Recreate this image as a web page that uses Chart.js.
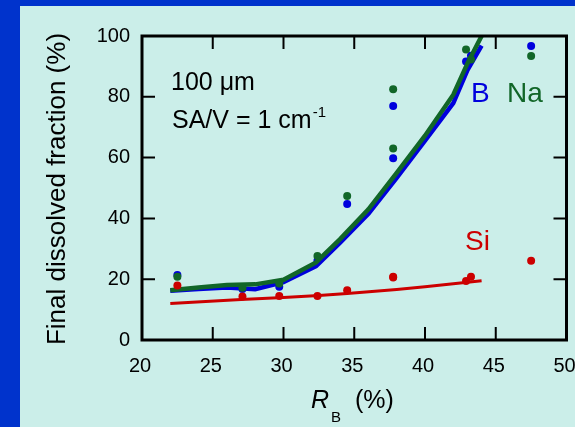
<!DOCTYPE html>
<html>
<head>
<meta charset="utf-8">
<title>Final dissolved fraction vs RB</title>
<script src="https://cdn.jsdelivr.net/npm/chart.js@4.4.1/dist/chart.umd.min.js"></script>
<style>
    html, body { margin: 0; padding: 0; background: #0033cc; }
    #wrap { width: 575px; height: 427px; position: relative; }
    canvas { display: block; }
</style>
</head>
<body>
<div id="wrap"><canvas id="chart" width="575" height="427"></canvas></div>
<script>
// ========================================
// DATA
// ========================================

// measured glasses: R_B (%)
const sampleRB = [22.5, 27.1, 29.7, 32.4, 34.5, 37.75, 37.75, 42.9, 43.25, 47.5];
// final dissolved fraction (%)
const measuredB  = [21.4, 16.8, 17.5, 26.1, 44.7, 77.0, 59.8, 91.6, 93.5, 96.7];
const measuredNa = [20.8, 17.2, 18.6, 27.6, 47.4, 82.5, 63.0, 95.6, 92.3, 93.4];
const measuredSi = [17.9, 14.3, 14.5, 14.5, 16.4, 20.8, 20.6, 19.4, 20.8, 26.1];

// model curves
const modelRB  = [22, 24, 26, 28, 30, 32.3, 34, 36, 38, 40, 42, 43, 44];
const modelB   = [16.2, 16.8, 17.3, 16.7, 19.0, 24.3, 32.0, 41.5, 53.3, 65.6, 77.9, 88.8, 96.8];
const modelNa  = [16.4, 17.3, 18.1, 18.3, 19.8, 25.5, 33.2, 43.0, 55.0, 67.2, 80.7, 91.0, 100];
const modelRBSi = [22, 27, 30, 32.5, 34.5, 38, 40, 43, 44];
const modelSi   = [12.0, 13.3, 14.0, 14.6, 15.3, 16.6, 17.5, 19.0, 19.5];

// axes
const xRange = [20, 50];
const yRange = [0, 100];
const xStep = 5;
const yStep = 20;

// ========================================
// STYLE
// ========================================

const COLORS = {
    frame: '#0033cc',
    panel: '#cbeee9',
    B: '#0000dd',
    Na: '#116628',
    Si: '#cc0000',
    ink: '#000000'
};
const FONT = '"Liberation Sans", Arial, Helvetica, sans-serif';

Chart.defaults.font.family = FONT;
Chart.defaults.color = COLORS.ink;

function toXY(xs, ys) {
    return xs.map((x, i) => ({ x: x, y: ys[i] }));
}

// ========================================
// PLUGIN: panel, boxed frame with inward ticks, labels
// ========================================

const figurePlugin = {
    id: 'figure',
    beforeDraw(chart) {
        const ctx = chart.ctx;
        ctx.save();
        ctx.fillStyle = COLORS.frame;
        ctx.fillRect(0, 0, chart.width, chart.height);
        ctx.fillStyle = COLORS.panel;
        ctx.fillRect(20, 6, chart.width - 20, chart.height - 6);
        ctx.restore();
    },
    afterDraw(chart) {
        const ctx = chart.ctx;
        const a = chart.chartArea;
        const xs = chart.scales.x;
        const ys = chart.scales.y;
        const tickLen = 13;

        ctx.save();
        ctx.strokeStyle = COLORS.ink;
        ctx.lineWidth = 2;
        ctx.beginPath();
        xs.ticks.forEach(t => {
            if (t.value <= xRange[0] || t.value >= xRange[1]) return;
            const px = xs.getPixelForValue(t.value);
            ctx.moveTo(px, a.bottom); ctx.lineTo(px, a.bottom - tickLen);
            ctx.moveTo(px, a.top); ctx.lineTo(px, a.top + tickLen);
        });
        ys.ticks.forEach(t => {
            if (t.value <= yRange[0] || t.value >= yRange[1]) return;
            const py = ys.getPixelForValue(t.value);
            ctx.moveTo(a.left, py); ctx.lineTo(a.left + tickLen, py);
            ctx.moveTo(a.right, py); ctx.lineTo(a.right - tickLen, py);
        });
        ctx.stroke();

        ctx.lineWidth = 3;
        ctx.strokeRect(a.left, a.top, a.right - a.left, a.bottom - a.top);

        // annotation
        ctx.fillStyle = COLORS.ink;
        ctx.textAlign = 'left';
        ctx.textBaseline = 'alphabetic';
        ctx.font = '25px ' + FONT;
        ctx.fillText('100 \u03bcm', 171, 90);
        ctx.fillText('SA/V = 1 cm', 172, 128);
        const w = ctx.measureText('SA/V = 1 cm').width;
        ctx.font = '15px ' + FONT;
        ctx.fillText('-1', 172 + w + 1, 117);

        // series labels
        ctx.font = '28px ' + FONT;
        ctx.fillStyle = COLORS.B;
        ctx.fillText('B', 471, 102);
        ctx.fillStyle = COLORS.Na;
        ctx.fillText('Na', 507, 102);
        ctx.fillStyle = COLORS.Si;
        ctx.fillText('Si', 465, 250);

        // y title
        ctx.fillStyle = COLORS.ink;
        ctx.save();
        ctx.translate(65, 189);
        ctx.rotate(-Math.PI / 2);
        ctx.textAlign = 'center';
        ctx.font = '26px ' + FONT;
        ctx.fillText('Final dissolved fraction (%)', 0, 0);
        ctx.restore();

        // x title
        ctx.textAlign = 'left';
        ctx.font = 'italic 25px ' + FONT;
        ctx.fillText('R', 311, 408);
        ctx.font = '15px ' + FONT;
        ctx.fillText('B', 331, 422);
        ctx.font = '25px ' + FONT;
        ctx.fillText('(%)', 355, 408);
        ctx.restore();
    }
};

// ========================================
// CHART
// ========================================

const tickFont = { family: FONT, size: 20 };

new Chart(document.getElementById('chart'), {
    type: 'scatter',
    data: {
        datasets: [
            { label: 'Si', data: toXY(sampleRB, measuredSi), showLine: false,
              pointRadius: 4, pointBackgroundColor: COLORS.Si, pointBorderWidth: 0, order: 0 },
            { label: 'Si model', data: toXY(modelRBSi, modelSi), showLine: true,
              borderColor: COLORS.Si, borderWidth: 3, pointRadius: 0, order: 1 },
            { label: 'Na', data: toXY(sampleRB, measuredNa), showLine: false,
              pointRadius: 4, pointBackgroundColor: COLORS.Na, pointBorderWidth: 0, order: 2 },
            { label: 'Na model', data: toXY(modelRB, modelNa), showLine: true,
              borderColor: COLORS.Na, borderWidth: 4.5, pointRadius: 0, order: 3 },
            { label: 'B', data: toXY(sampleRB, measuredB), showLine: false,
              pointRadius: 4, pointBackgroundColor: COLORS.B, pointBorderWidth: 0, order: 4 },
            { label: 'B model', data: toXY(modelRB, modelB), showLine: true,
              borderColor: COLORS.B, borderWidth: 4.5, pointRadius: 0, order: 5 }
        ]
    },
    options: {
        responsive: false,
        animation: false,
        layout: { padding: { left: 0, right: 8.5, top: 36, bottom: 0 } },
        plugins: {
            legend: { display: false },
            tooltip: { enabled: false }
        },
        scales: {
            x: {
                type: 'linear',
                position: 'bottom',
                min: xRange[0],
                max: xRange[1],
                ticks: { stepSize: xStep, font: tickFont, color: COLORS.ink, padding: 14,
                         labelOffset: -2, maxRotation: 0, autoSkip: false },
                grid: { display: false, drawTicks: false },
                border: { display: false },
                afterFit(scale) {
                    scale.height = 87;
                    scale.paddingLeft = 0;
                    scale.paddingRight = 0;
                }
            },
            y: {
                type: 'linear',
                position: 'left',
                min: yRange[0],
                max: yRange[1],
                ticks: { stepSize: yStep, font: tickFont, color: COLORS.ink, padding: 12 },
                grid: { display: false, drawTicks: false },
                border: { display: false },
                afterFit(scale) {
                    scale.width = 142;
                    scale.paddingTop = 0;
                    scale.paddingBottom = 0;
                }
            }
        }
    },
    plugins: [figurePlugin]
});
</script>
</body>
</html>
